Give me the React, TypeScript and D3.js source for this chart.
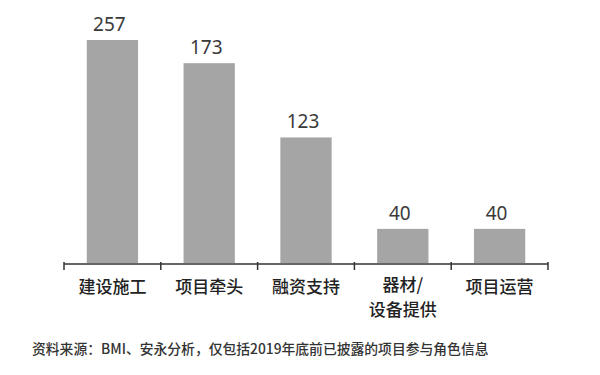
import * as d3 from "d3";
import { useEffect, useRef } from "react";

const categories = ["建设施工", "项目牵头", "融资支持", "器材/\n设备提供", "项目运营"];
const counts = [257, 173, 123, 40, 40];
const sourceNote = "资料来源：BMI、安永分析，仅包括2019年底前已披露的项目参与角色信息";

// the original bars are not drawn to a single linear scale, so the y scale is piecewise
const yStops = [0, 40, 123, 173, 257];
const yShare = [0, 0.153, 0.563, 0.896, 1];

const W = 600;
const H = 375;
const margin = { top: 40, left: 64, right: 52, bottom: 112 };

const App = () => {
  const ref = useRef<SVGSVGElement>(null);

  useEffect(() => {
    const svg = d3.select(ref.current);
    svg.selectAll("*").remove();

    const baseY = H - margin.bottom;
    const plotH = baseY - margin.top;

    const x = d3.scaleBand<string>()
      .domain(categories)
      .range([margin.left, W - margin.right])
      .padding(0);
    const y = d3.scaleLinear()
      .domain(yStops)
      .range(yShare.map(s => baseY - s * plotH));

    const step = x.step();
    const barW = step * 0.53;

    svg.selectAll(".bar")
      .data(categories)
      .enter()
      .append("rect")
      .attr("class", "bar")
      .attr("x", c => x(c)! + (step - barW) / 2)
      .attr("y", (c, i) => y(counts[i]))
      .attr("width", barW)
      .attr("height", (c, i) => baseY - y(counts[i]))
      .style("fill", "#a5a5a5");

    svg.selectAll(".val")
      .data(categories)
      .enter()
      .append("text")
      .attr("class", "val")
      .attr("x", c => x(c)! + step / 2 - 3)
      .attr("y", (c, i) => y(counts[i]) - 9)
      .attr("text-anchor", "middle")
      .style("font-family", "'Noto Sans', sans-serif")
      .style("font-size", "19px")
      .style("fill", "#3a3a3a")
      .text((c, i) => counts[i]);

    // axis line with ticks on band edges
    const axisY = baseY + 1;
    svg.append("line")
      .attr("x1", margin.left).attr("x2", W - margin.right)
      .attr("y1", axisY).attr("y2", axisY)
      .style("stroke", "#333").style("stroke-width", 1.5);
    const edges = categories.map(c => x(c)!).concat([W - margin.right]);
    svg.selectAll(".tick")
      .data(edges)
      .enter()
      .append("line")
      .attr("x1", d => d).attr("x2", d => d)
      .attr("y1", axisY - 2).attr("y2", axisY + 6)
      .style("stroke", "#333").style("stroke-width", 1.5);

    // category labels, one text per line
    categories.forEach(c => {
      const lines = c.split("\n");
      lines.forEach((line, k) => {
        const top = lines.length > 1 ? axisY + 27 : axisY + 29;
        svg.append("text")
          .attr("class", "cat")
          .attr("x", x(c)! + step / 2)
          .attr("y", top + k * 25)
          .attr("text-anchor", "middle")
          .style("font-family", "'Noto Sans CJK SC', sans-serif")
          .style("font-size", "17px")
          .style("font-weight", 500)
          .style("fill", "#222")
          .text(line);
      });
    });

    svg.append("text")
      .attr("x", 32)
      .attr("y", 354)
      .style("font-family", "'Noto Sans CJK SC', sans-serif")
      .style("font-size", "13.8px")
      .style("font-weight", 500)
      .style("fill", "#333")
      .text(sourceNote);
  }, []);

  return (
    <svg ref={ref} width={W} height={H}
      style={{ position: "absolute", left: 0, top: 0, background: "#fff" }} />
  );
};

export default App;
